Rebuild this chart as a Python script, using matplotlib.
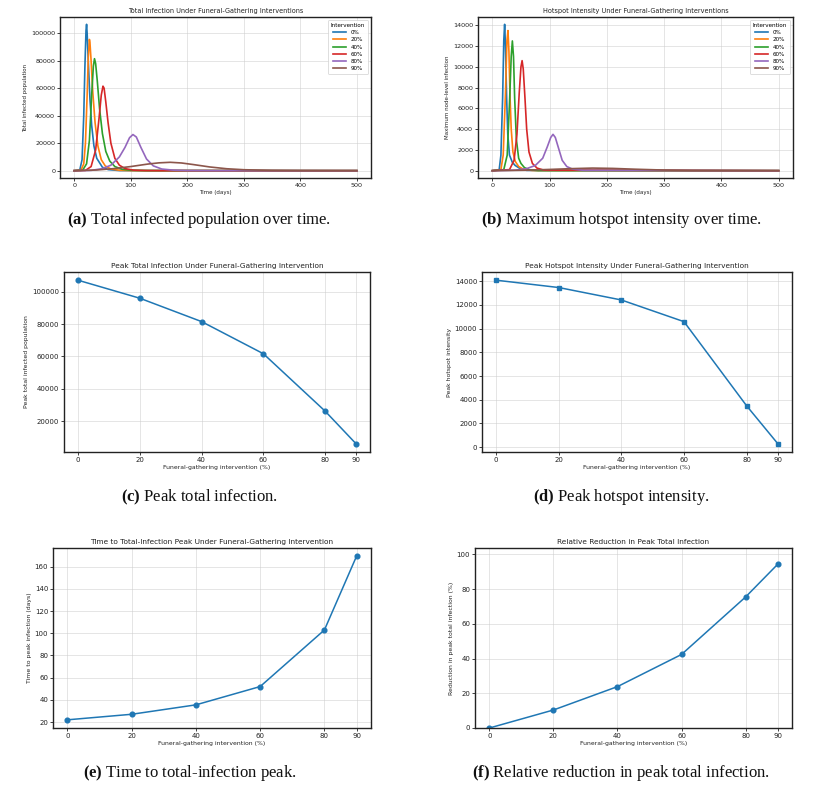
import matplotlib
matplotlib.use("Agg")
import matplotlib.pyplot as plt
import numpy as np

plt.rcParams['font.family'] = ['DejaVu Sans']
plt.rcParams['mathtext.fontset'] = 'custom'
plt.rcParams['mathtext.rm'] = 'Liberation Serif'
plt.rcParams['mathtext.bf'] = 'Liberation Serif:bold'

# ---------------- data ----------------
interventions = [0, 20, 40, 60, 80, 90]
labels = ["0%", "20%", "40%", "60%", "80%", "90%"]

# Total infected population time series
tot_days = {
    "0%":  [0, 10, 14, 17, 19, 21, 22, 23, 25, 28, 31, 35, 40, 50, 60, 80, 500],
    "20%": [0, 12, 17, 20, 23, 25, 27, 28, 30, 33, 37, 42, 48, 55, 65, 80, 100, 500],
    "40%": [0, 15, 22, 27, 31, 34, 36, 38, 41, 45, 50, 56, 63, 72, 85, 100, 130, 500],
    "60%": [0, 20, 30, 38, 44, 48, 51, 53, 56, 60, 65, 72, 80, 90, 105, 125, 150, 500],
    "80%": [0, 30, 50, 65, 80, 90, 98, 104, 110, 118, 128, 140, 155, 175, 200, 250, 500],
    "90%": [0, 40, 70, 100, 130, 150, 170, 190, 210, 240, 270, 300, 350, 400, 500],
}
tot_vals = {
    "0%":  [0, 500, 8000, 40000, 75000, 102000, 106500, 100000, 80000, 52000, 33000, 18000, 9000, 2500, 800, 100, 0],
    "20%": [0, 300, 5000, 20000, 55000, 82000, 95500, 93000, 80000, 57000, 35000, 18000, 8000, 3500, 1200, 300, 50, 0],
    "40%": [0, 300, 5000, 22000, 55000, 76000, 81500, 78000, 65000, 45000, 27000, 14000, 7000, 3000, 1000, 300, 50, 0],
    "60%": [0, 200, 3000, 15000, 38000, 55000, 61500, 60000, 50000, 35000, 20000, 9000, 4000, 1500, 400, 100, 20, 0],
    "80%": [0, 200, 1500, 4000, 10000, 17000, 24000, 26300, 24500, 17000, 8500, 3500, 1200, 400, 100, 20, 0],
    "90%": [0, 500, 1500, 3000, 4800, 5700, 6100, 5600, 4500, 2700, 1400, 700, 200, 50, 0],
}

# Maximum node-level (hotspot) infection time series
hot_days = {
    "0%":  [0, 12, 15, 18, 20, 21.5, 23, 25, 27, 30, 35, 40, 50, 60, 500],
    "20%": [0, 15, 19, 23, 25.5, 27.3, 29, 31, 33, 36, 40, 46, 55, 70, 500],
    "40%": [0, 20, 26, 30, 33, 35, 37, 39, 42, 46, 50, 56, 65, 80, 500],
    "60%": [0, 30, 38, 43, 47, 50, 52, 54, 57, 60, 64, 70, 78, 90, 500],
    "80%": [0, 40, 60, 75, 88, 96, 102, 106, 110, 116, 122, 130, 140, 160, 500],
    "90%": [0, 60, 100, 140, 175, 210, 250, 300, 350, 500],
}
hot_vals = {
    "0%":  [0, 100, 1500, 7000, 12500, 14100, 12000, 7000, 3500, 1500, 800, 500, 150, 30, 0],
    "20%": [0, 100, 1500, 7500, 12500, 13500, 11500, 7000, 4000, 1800, 900, 400, 120, 20, 0],
    "40%": [0, 100, 1500, 6500, 11000, 12500, 11000, 7000, 3000, 1200, 700, 300, 80, 10, 0],
    "60%": [0, 100, 1000, 3500, 7500, 10000, 10600, 9800, 7000, 4000, 1800, 700, 250, 50, 0],
    "80%": [0, 50, 200, 500, 1200, 2300, 3200, 3500, 3200, 2100, 1000, 400, 150, 30, 0],
    "90%": [0, 50, 120, 200, 250, 220, 140, 60, 20, 0],
}

peak_total = [107000, 95900, 81500, 61700, 26300, 6200]
peak_hotspot = [14090, 13470, 12420, 10590, 3490, 280]
time_to_peak = [22, 27, 35.5, 52, 103, 169.5]
reduction = [100.0 * (1 - p / peak_total[0]) for p in peak_total]

captions = [
    (r"$\mathbf{(a)}$ Total infected population over time.", 199, 220),
    (r"$\mathbf{(b)}$ Maximum hotspot intensity over time.", 621, 220),
    (r"$\mathbf{(c)}$ Peak total infection.", 199, 497),
    (r"$\mathbf{(d)}$ Peak hotspot intensity.", 621, 497),
    (r"$\mathbf{(e)}$ Time to total-infection peak.", 190, 773),
    (r"$\mathbf{(f)}$ Relative reduction in peak total infection.", 621, 773),
]

# ---------------- figure ----------------
W, H = 826, 786
fig = plt.figure(figsize=(W / 100, H / 100), dpi=100)


def make_ax(l, r, t, b):
    return fig.add_axes([l / W, 1 - b / H, (r - l) / W, (b - t) / H])


def style(ax, title, xlabel, ylabel, tsize, lsize, ksize):
    ax.set_title(title, fontsize=tsize, pad=3, color="#222222")
    ax.set_xlabel(xlabel, fontsize=lsize, labelpad=1.5, color="#222222")
    ax.set_ylabel(ylabel, fontsize=lsize, labelpad=2, color="#222222")
    ax.tick_params(labelsize=ksize, length=2, width=0.6, pad=1.5, colors="#222222")
    ax.grid(True, color="#cccccc", alpha=0.6, linewidth=0.6)
    ax.set_axisbelow(True)
    for s in ax.spines.values():
        s.set_linewidth(1.0)
        s.set_color("#222222")


colors = plt.rcParams['axes.prop_cycle'].by_key()['color']

# (a)
axa = make_ax(60, 371, 17, 178)
for i, lab in enumerate(labels):
    axa.plot(tot_days[lab], tot_vals[lab], color=colors[i], lw=1.2, label=lab)
style(axa, "Total Infection Under Funeral-Gathering Interventions", "Time (days)",
      "Total infected population", 4.7, 4.0, 4.6)
leg = axa.legend(title="Intervention", fontsize=4.1, title_fontsize=4.1, loc="upper right",
                 handlelength=2.2, labelspacing=0.4, borderpad=0.5, framealpha=0.9)
leg.get_frame().set_linewidth(0.5)

# (b)
axb = make_ax(478, 793, 17, 178)
for i, lab in enumerate(labels):
    axb.plot(hot_days[lab], hot_vals[lab], color=colors[i], lw=1.2, label=lab)
style(axb, "Hotspot Intensity Under Funeral-Gathering Interventions", "Time (days)",
      "Maximum node-level infection", 4.7, 4.0, 4.6)
leg = axb.legend(title="Intervention", fontsize=4.1, title_fontsize=4.1, loc="upper right",
                 handlelength=2.2, labelspacing=0.4, borderpad=0.5, framealpha=0.9)
leg.get_frame().set_linewidth(0.5)

xl = "Funeral-gathering intervention (%)"
# (c)
axc = make_ax(64, 370, 272, 452)
axc.plot(interventions, peak_total, marker="o", ms=3.4, lw=1.1, color=colors[0])
axc.set_xticks(interventions)
style(axc, "Peak Total Infection Under Funeral-Gathering Intervention", xl,
      "Peak total infected population", 5.3, 4.4, 5.0)

# (d)
axd = make_ax(482, 792, 272, 452)
axd.plot(interventions, peak_hotspot, marker="s", ms=3.4, lw=1.1, color=colors[0])
axd.set_xticks(interventions)
style(axd, "Peak Hotspot Intensity Under Funeral-Gathering Intervention", xl,
      "Peak hotspot intensity", 5.3, 4.4, 5.0)

# (e)
axe = make_ax(53, 371, 548, 728)
axe.plot(interventions, time_to_peak, marker="o", ms=3.4, lw=1.1, color=colors[0])
axe.set_xticks(interventions)
style(axe, "Time to Total-Infection Peak Under Funeral-Gathering Intervention", xl,
      "Time to peak infection (days)", 5.3, 4.4, 5.0)

# (f)
axf = make_ax(475, 792, 548, 728)
axf.plot(interventions, reduction, marker="o", ms=3.4, lw=1.1, color=colors[0])
axf.set_xticks(interventions)
axf.set_ylim(0, max(reduction) * 1.1)
style(axf, "Relative Reduction in Peak Total Infection", xl,
      "Reduction in peak total infection (%)", 5.3, 4.4, 5.0)

for text, x, y in captions:
    fig.text(x / W, 1 - y / H, text, ha="center", va="center",
             fontsize=12, family="Liberation Serif", color="#111111")

fig.savefig("out.png", dpi=100)
